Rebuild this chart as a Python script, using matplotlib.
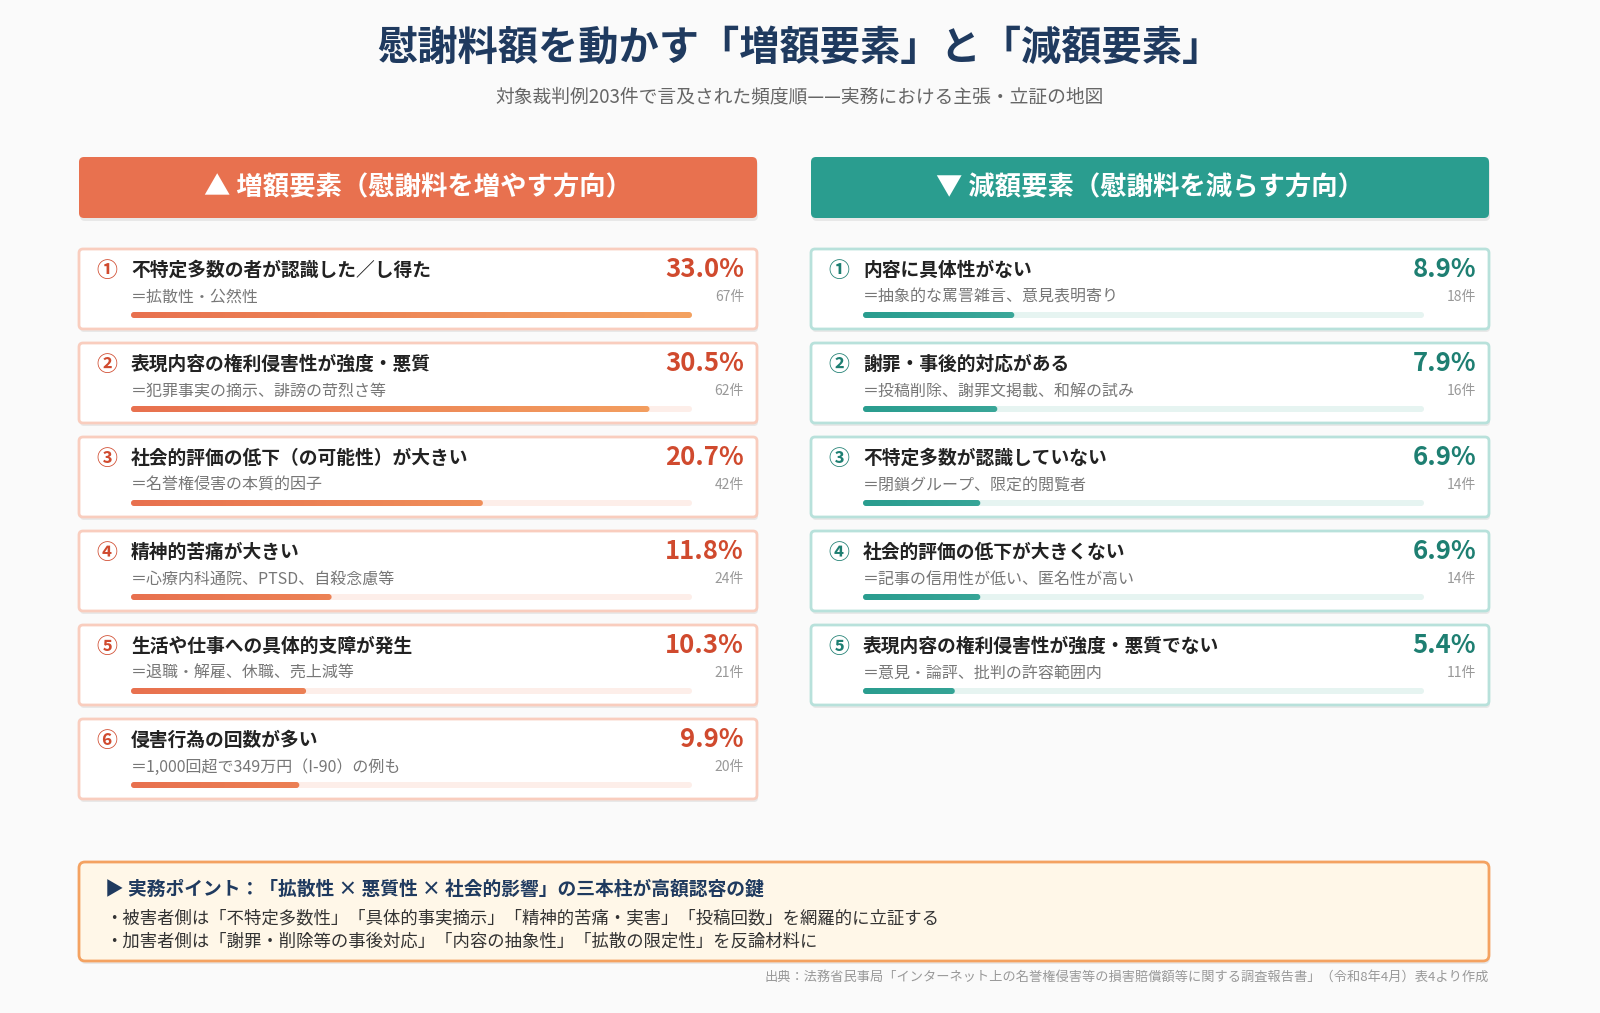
import matplotlib.pyplot as plt
import numpy as np
from matplotlib.patches import FancyBboxPatch
from matplotlib.colors import LinearSegmentedColormap

plt.rcParams['font.family'] = ['Noto Sans CJK JP', 'DejaVu Sans']

# data
inc_labels = ['不特定多数の者が認識した／し得た', '表現内容の権利侵害性が強度・悪質', '社会的評価の低下（の可能性）が大きい',
              '精神的苦痛が大きい', '生活や仕事への具体的支障が発生', '侵害行為の回数が多い']
inc_notes = ['＝拡散性・公然性', '＝犯罪事実の摘示、誹謗の苛烈さ等', '＝名誉権侵害の本質的因子',
             '＝心療内科通院、PTSD、自殺念慮等', '＝退職・解雇、休職、売上減等', '＝1,000回超で349万円（I-90）の例も']
inc_pct = [33.0, 30.5, 20.7, 11.8, 10.3, 9.9]
inc_cnt = [67, 62, 42, 24, 21, 20]

dec_labels = ['内容に具体性がない', '謝罪・事後的対応がある', '不特定多数が認識していない',
              '社会的評価の低下が大きくない', '表現内容の権利侵害性が強度・悪質でない']
dec_notes = ['＝抽象的な罵詈雑言、意見表明寄り', '＝投稿削除、謝罪文掲載、和解の試み', '＝閉鎖グループ、限定的閲覧者',
             '＝記事の信用性が低い、匿名性が高い', '＝意見・論評、批判の許容範囲内']
dec_pct = [8.9, 7.9, 6.9, 6.9, 5.4]
dec_cnt = [18, 16, 14, 14, 11]

nums = ['①', '②', '③', '④', '⑤', '⑥']
scale_max = 33.0

fig = plt.figure(figsize=(16, 10.13), dpi=100)
fig.patch.set_facecolor('#FAFAFA')
ax = fig.add_axes([0, 0, 1, 1])
ax.set_xlim(0, 1600)
ax.set_ylim(1013, 0)
ax.axis('off')

navy = '#1F3A5F'
ax.text(800, 48, '慰謝料額を動かす「増額要素」と「減額要素」', ha='center', va='center',
        fontsize=29, fontweight='bold', color=navy)
ax.text(800, 97, '対象裁判例203件で言及された頻度順——実務における主張・立証の地図', ha='center', va='center',
        fontsize=13.5, color='#666666')


def rbox(x, y, w, h, fc, ec, lw=1.5, r=4, z=2, shadow=True):
    if shadow:
        ax.add_patch(FancyBboxPatch((x + 1, y + 3), w, h, boxstyle=f'round,pad=0,rounding_size={r}',
                                    fc='#00000012', ec='none', zorder=z - 0.5))
    ax.add_patch(FancyBboxPatch((x, y), w, h, boxstyle=f'round,pad=0,rounding_size={r}',
                                fc=fc, ec=ec, lw=lw, zorder=z))


def column(x0, head, hcol, labels, notes, pct, cnt, border, pcol, track, c1, c2):
    w = 678
    rbox(x0, 157, w, 61, hcol, 'none', r=5)
    ax.text(x0 + w / 2, 188, head, ha='center', va='center', fontsize=19, fontweight='bold', color='white', zorder=5)
    cmap = LinearSegmentedColormap.from_list('g', [c1, c2])
    bx0, bw = x0 + 52, 561
    for i, (lab, note, p, c) in enumerate(zip(labels, notes, pct, cnt)):
        y = 249 + i * 94
        rbox(x0, y, w, 80, 'white', border, lw=2)
        ax.text(x0 + 28, y + 21, nums[i], ha='center', va='center', fontsize=15, fontweight='bold', color=pcol, zorder=5)
        ax.text(x0 + 52, y + 21, lab, ha='left', va='center', fontsize=13.5, fontweight='bold', color='#222222', zorder=5)
        ax.text(x0 + w - 13, y + 20, f'{p:.1f}%', ha='right', va='center', fontsize=18.5, fontweight='bold', color=pcol, zorder=5)
        ax.text(x0 + 52, y + 48, note, ha='left', va='center', fontsize=11.5, color='#777777', zorder=5)
        ax.text(x0 + w - 13, y + 48, f'{c}件', ha='right', va='center', fontsize=10, color='#999999', zorder=5)
        ty = y + 63
        ax.add_patch(FancyBboxPatch((bx0, ty), bw, 6, boxstyle='round,pad=0,rounding_size=3',
                                    fc=track, ec='none', zorder=4))
        fw = bw * p / scale_max
        im = ax.imshow(np.linspace(0, 1, 256)[None, :] * (fw / bw), cmap=cmap, vmin=0, vmax=1, aspect='auto',
                       extent=(bx0, bx0 + fw, ty + 6, ty), zorder=5)
        clip = FancyBboxPatch((bx0, ty), fw, 6, boxstyle='round,pad=0,rounding_size=3',
                              fc='none', ec='none', transform=ax.transData)
        ax.add_patch(clip)
        im.set_clip_path(clip)


column(79, '▲ 増額要素（慰謝料を増やす方向）', '#E8714F', inc_labels, inc_notes, inc_pct, inc_cnt,
       '#F9CDBE', '#D04A2E', '#FDEEE9', '#E8714F', '#F4A261')
column(811, '▼ 減額要素（慰謝料を減らす方向）', '#2A9D8F', dec_labels, dec_notes, dec_pct, dec_cnt,
       '#B8E1DB', '#1E7F72', '#E6F4F1', '#2A9D8F', '#6CC5B8')

ax.set_xlim(0, 1600)
ax.set_ylim(1013, 0)

rbox(79, 862, 1410, 99, '#FFF7E8', '#F4A261', lw=2, r=6)
ax.text(105, 889, '▶ 実務ポイント：「拡散性 × 悪質性 × 社会的影響」の三本柱が高額認容の鍵', ha='left', va='center',
        fontsize=13.5, fontweight='bold', color=navy, zorder=5)
ax.text(105, 918, '・被害者側は「不特定多数性」「具体的事実摘示」「精神的苦痛・実害」「投稿回数」を網羅的に立証する',
        ha='left', va='center', fontsize=12.5, color='#333333', zorder=5)
ax.text(105, 942, '・加害者側は「謝罪・削除等の事後対応」「内容の抽象性」「拡散の限定性」を反論材料に',
        ha='left', va='center', fontsize=12.5, color='#333333', zorder=5)
ax.text(1489, 977, '出典：法務省民事局「インターネット上の名誉権侵害等の損害賠償額等に関する調査報告書」（令和8年4月）表4より作成',
        ha='right', va='center', fontsize=9.5, color='#999999')

fig.savefig('out.png', dpi=100, facecolor=fig.get_facecolor())
